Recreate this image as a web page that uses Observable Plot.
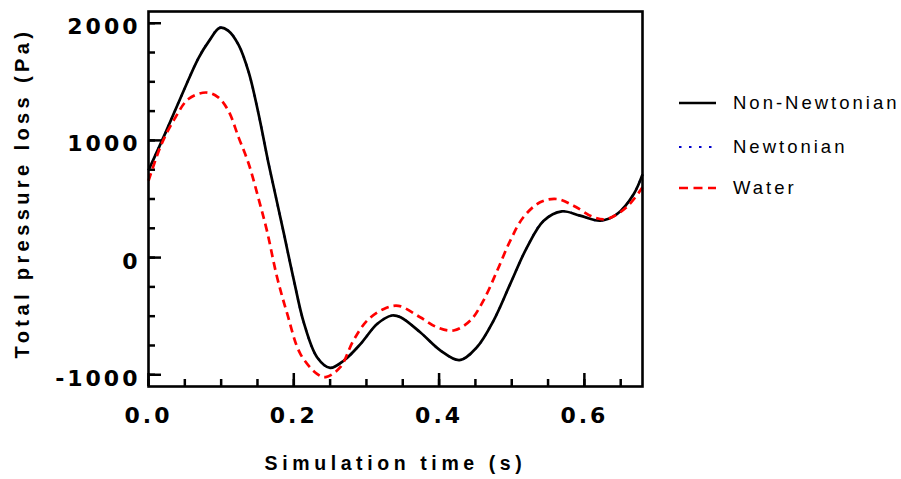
<!DOCTYPE html>
<html>
<head>
<meta charset="utf-8">
<script src="https://cdn.jsdelivr.net/npm/d3@7"></script>
<script src="https://cdn.jsdelivr.net/npm/@observablehq/plot@0.6"></script>
<style>
  body { margin: 0; background: #fff; }
  #wrap { position: relative; width: 901px; height: 479px; overflow: hidden; }
  #legend { position: absolute; left: 679px; top: 0; font-family: "Liberation Sans", Arial, sans-serif; font-size: 18.5px; letter-spacing: 3px; color: #000; }
  .item { position: absolute; left: 0; height: 24px; display: flex; align-items: center; white-space: nowrap; }
  .item svg { display: block; margin-right: 17px; }
</style>
</head>
<body>
<div id="wrap"><div id="chart"></div><div id="legend"></div></div>
<script>
// ---- data ----
const seriesNames = ["Non-Newtonian", "Newtonian", "Water"];

const nonNewtonianTime = [0.000, 0.023, 0.046, 0.069, 0.083, 0.098, 0.110, 0.124, 0.138, 0.151, 0.165, 0.177, 0.186, 0.200, 0.214, 0.232, 0.250, 0.269, 0.292, 0.315, 0.335, 0.347, 0.374, 0.402, 0.428, 0.452, 0.475, 0.498, 0.521, 0.544, 0.569, 0.594, 0.622, 0.645, 0.668, 0.680];
const nonNewtonianLoss = [745, 1060, 1390, 1705, 1845, 1960, 1935, 1815, 1580, 1240, 810, 470, 215, -190, -560, -850, -941, -878, -736, -565, -494, -509, -637, -793, -875, -765, -537, -224, 88, 315, 395, 358, 315, 372, 543, 710];

const newtonianTime = [0.000, 0.023, 0.046, 0.069, 0.083, 0.098, 0.110, 0.124, 0.138, 0.151, 0.165, 0.177, 0.186, 0.200, 0.214, 0.232, 0.250, 0.269, 0.292, 0.315, 0.335, 0.347, 0.374, 0.402, 0.428, 0.452, 0.475, 0.498, 0.521, 0.544, 0.569, 0.594, 0.622, 0.645, 0.668, 0.680];
const newtonianLoss = [745, 1060, 1390, 1707, 1847, 1962, 1937, 1815, 1580, 1240, 810, 470, 215, -190, -560, -850, -941, -878, -736, -565, -494, -509, -637, -793, -875, -765, -537, -224, 88, 315, 395, 358, 315, 372, 543, 710];

const waterTime = [0.000, 0.018, 0.037, 0.055, 0.079, 0.096, 0.110, 0.124, 0.138, 0.151, 0.163, 0.177, 0.191, 0.209, 0.232, 0.244, 0.264, 0.282, 0.301, 0.324, 0.344, 0.374, 0.397, 0.420, 0.443, 0.461, 0.480, 0.498, 0.516, 0.539, 0.562, 0.585, 0.613, 0.631, 0.658, 0.680];
const waterLoss = [656, 969, 1196, 1353, 1409, 1367, 1253, 1026, 799, 514, 230, -168, -480, -821, -992, -1020, -935, -708, -537, -438, -412, -509, -594, -622, -537, -367, -111, 145, 344, 472, 500, 443, 344, 330, 429, 600];

const xMajorTicks = [0, 0.2, 0.4, 0.6];
const xMinorTicks = [0, 0.05, 0.1, 0.15, 0.2, 0.25, 0.3, 0.35, 0.4, 0.45, 0.5, 0.55, 0.6, 0.65];
const yMajorTicks = [-1000, 0, 1000, 2000];
const yMinorTicks = [-1000, -750, -500, -250, 0, 250, 500, 750, 1000, 1250, 1500, 1750, 2000];

const xTitle = "Simulation time (s)";
const yTitle = "Total pressure loss (Pa)";

// ---- styles per series ----
const styles = {
  "Non-Newtonian": { stroke: "#000000", strokeWidth: 2.7, dash: null },
  "Newtonian": { stroke: "#0000cc", strokeWidth: 2.2, dash: "2,6" },
  "Water": { stroke: "#ff0000", strokeWidth: 2.7, dash: "8,5" }
};

const toRows = (ts, vs) => ts.map((t, i) => ({ t, v: vs[i] }));
const rows = {
  "Non-Newtonian": toRows(nonNewtonianTime, nonNewtonianLoss),
  "Newtonian": toRows(newtonianTime, newtonianLoss),
  "Water": toRows(waterTime, waterLoss)
};

const lineMark = (name) => Plot.line(rows[name], {
  x: "t", y: "v", stroke: styles[name].stroke, strokeWidth: styles[name].strokeWidth,
  strokeDasharray: styles[name].dash, curve: "catmull-rom", strokeLinecap: "butt"
});

const tickFont = "DejaVu Sans, Liberation Sans, Arial, sans-serif";
const titleFont = "Liberation Sans, Arial, sans-serif";

const chart = Plot.plot({
  width: 901,
  height: 479,
  marginLeft: 148,
  marginRight: 259,
  marginTop: 11,
  marginBottom: 93,
  style: { fontFamily: titleFont, background: "#fff", color: "#000" },
  x: { domain: [0, 0.68] },
  y: { domain: [-1100, 2100] },
  marks: [
    // minor & major inward ticks
    Plot.axisX({ ticks: xMinorTicks, tickSize: -7, tickFormat: () => "", strokeWidth: 2.5, label: null }),
    Plot.axisX({ ticks: xMajorTicks, tickSize: -13, tickFormat: () => "", strokeWidth: 2.5, label: null }),
    Plot.axisY({ ticks: yMinorTicks, tickSize: -7, tickFormat: () => "", strokeWidth: 2.5, label: null }),
    Plot.axisY({ ticks: yMajorTicks, tickSize: -13, tickFormat: () => "", strokeWidth: 2.5, label: null }),
    // tick labels
    Plot.axisX({ ticks: xMajorTicks, tickSize: 0, tickPadding: 21, tickFormat: d3.format(".1f"),
      fontSize: 22, fontWeight: "bold", fontFamily: tickFont, label: null }),
    Plot.axisY({ ticks: yMajorTicks, tickSize: 0, tickPadding: 8, tickFormat: (d) => String(d),
      fontSize: 22, fontWeight: "bold", fontFamily: tickFont, dy: 4, label: null }),
    // axis titles
    Plot.text([xTitle], { text: (d) => d, frameAnchor: "bottom", dy: 77, lineAnchor: "middle", textAnchor: "middle",
      fontSize: 19.5, fontWeight: "bold", fontFamily: titleFont }),
    Plot.text([yTitle], { text: (d) => d, frameAnchor: "left", dx: -126, dy: -6, rotate: -90, lineAnchor: "middle", textAnchor: "middle",
      fontSize: 20, fontWeight: "bold", fontFamily: titleFont }),
    // series
    lineMark("Newtonian"),
    lineMark("Non-Newtonian"),
    lineMark("Water"),
    Plot.frame({ stroke: "#000", strokeWidth: 2.6 })
  ]
});

document.getElementById("chart").appendChild(chart);

// letter spacing
d3.select(chart).selectAll('g[aria-label="y-axis tick label"] text').style("letter-spacing", "3px");
d3.select(chart).selectAll('g[aria-label="x-axis tick label"] text').style("letter-spacing", "3px");
d3.select(chart).selectAll("text").each(function () {
  const t = this.textContent;
  if (t === xTitle) this.style.letterSpacing = "4.6px";
  if (t === yTitle) this.style.letterSpacing = "4.4px";
});

// ---- legend (HTML, to the right of the plot) ----
const legendCenters = [103, 147, 188];
const legend = document.getElementById("legend");
seriesNames.forEach((name, i) => {
  const s = styles[name];
  const item = document.createElement("div");
  item.className = "item";
  item.style.top = (legendCenters[i] - 12) + "px";
  item.innerHTML =
    `<svg width="37" height="8"><line x1="0" x2="37" y1="4" y2="4" stroke="${s.stroke}" stroke-width="${s.strokeWidth}" ${s.dash ? `stroke-dasharray="${name === "Newtonian" ? "2.5,7.5" : "9,5.5"}"` : ""}/></svg><span>${name}</span>`;
  legend.appendChild(item);
});
</script>
</body>
</html>
